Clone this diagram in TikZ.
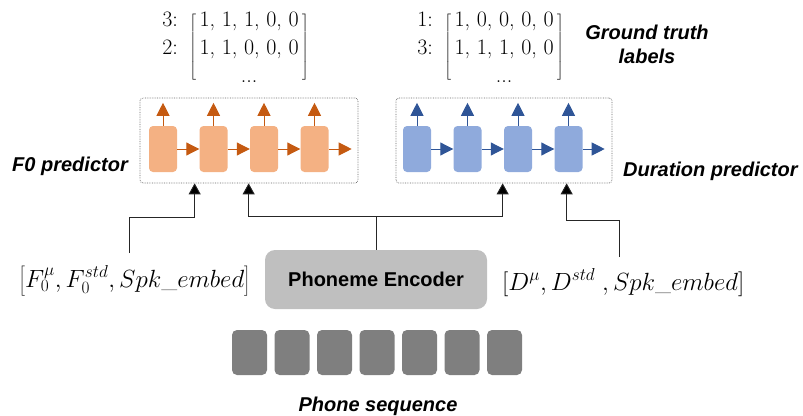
\documentclass[tikz,border=0pt]{standalone}
\usepackage{fontspec}
\usetikzlibrary{arrows.meta,calc}
\newfontfamily\lsans{Liberation Sans}
\definecolor{orfill}{HTML}{F4B183}
\definecolor{orline}{HTML}{C55A11}
\definecolor{blfill}{HTML}{8FAADC}
\definecolor{blline}{HTML}{2F5597}
\definecolor{encfill}{HTML}{BFBFBF}
\definecolor{phfill}{HTML}{7F7F7F}
\newcommand\mycol[1]{\vcenter{\baselineskip=28pt\lineskiplimit=-20pt\halign{\hfil##\hfil\cr#1\cr}}}
\newcommand\mylab[1]{\vcenter{\baselineskip=28pt\lineskiplimit=-20pt\halign{\hfil##\cr#1\cr}}}
\begin{document}
\begin{tikzpicture}[x=1pt,y=-1pt,
  lbl/.style={font=\lsans\bfseries\itshape\fontsize{20}{24}\selectfont, inner sep=0},
  mrow/.style={font=\fontsize{22}{26}\selectfont, inner sep=0},
  mlab/.style={font=\fontsize{23}{27}\selectfont, inner sep=0},
  predbox/.style={draw=black!60, densely dotted, rounded corners=3pt, line width=0.7pt, minimum width=218pt, minimum height=85pt, inner sep=0},
  ocell/.style={fill=orfill, rounded corners=4pt, minimum width=28pt, minimum height=46pt, inner sep=0},
  bcell/.style={fill=blfill, rounded corners=4pt, minimum width=28pt, minimum height=46pt, inner sep=0},
  oarr/.style={draw=orline, line width=1pt, -{Triangle[width=13pt,length=13pt,fill=orline]}},
  barr/.style={draw=blline, line width=1pt, -{Triangle[width=13pt,length=13pt,fill=blline]}},
  blk/.style={draw=black!85, line width=0.9pt, -{Triangle[width=12pt,length=11pt,fill=black]}},
  conn/.style={draw=black!85, line width=0.9pt},
  encbox/.style={fill=encfill, rounded corners=10pt, minimum width=222pt, minimum height=59pt, inner sep=0, font=\lsans\bfseries\fontsize{20}{24}\selectfont},
  pblock/.style={fill=phfill, rounded corners=5pt, minimum width=35pt, minimum height=45pt, inner sep=0}
]
\useasboundingbox (0,0) rectangle (803,415);

% ground truth matrices
\node[mrow, anchor=east] (f0mat) at (309,47)
  {$\mylab{3:\cr 2:\cr }\mskip7mu\left[\mskip3mu\mycol{1, 1, 1, 0, 0\cr 1, 1, 0, 0, 0\cr ...}\mskip3mu\right]$};
\node[mrow, anchor=east] (dmat) at (564,47)
  {$\mylab{1:\cr 3:\cr }\mskip7mu\left[\mskip3mu\mycol{1, 0, 0, 0, 0\cr 1, 1, 1, 0, 0\cr ...}\mskip3mu\right]$};

\node[lbl, align=center, anchor=north] (gt) at (647,24.5) {Ground truth\\labels};

% predictor boxes
\node[predbox] (f0box) at (249,140.5) {};
\node[predbox, minimum width=216pt] (dbox) at (504,140.5) {};

\foreach \i in {1,...,4} {
  \node[ocell] (o\i) at ({163+50.5*(\i-1)},149) {};
  \draw[oarr] (o\i.north) -- ++(0,-23);
  \node[bcell] (b\i) at ({417+50.5*(\i-1)},149) {};
  \draw[barr] (b\i.north) -- ++(0,-23);
}
\foreach \i/\j in {1/2,2/3,3/4} {
  \draw[oarr] (o\i.east) -- (o\j.west);
  \draw[barr] (b\i.east) -- (b\j.west);
}
\draw[oarr] (o4.east) -- ++(23,0);
\draw[barr] (b4.east) -- ++(22,0);

\node[lbl, anchor=base east] (f0name) at (128,171) {F0 predictor};
\node[lbl, anchor=base west] (dname) at (623,176) {Duration predictor};

% encoder and inputs
\node[encbox] (enc) at (376,279.5) {Phoneme Encoder};
\node[mlab, anchor=base west] (f0lab) at (19,287) {$\left[F_0^{\mu},F_0^{std},Spk\_embed\right]$};
\node[mlab, anchor=base west] (dlab) at (502,290) {$[D^{\mu},D^{std}\ ,Spk\_embed]$};

\coordinate (t1) at ($(f0box.south west)+(55,0)$);
\coordinate (t2) at ($(f0box.south west)+(109,0)$);
\coordinate (t3) at ($(dbox.south west)+(107,0)$);
\coordinate (t4) at ($(dbox.south west)+(171,0)$);
\coordinate (f0in) at (129,253);
\coordinate (din) at (619,257);

\draw[blk] (f0in) -- ++(0,-36) -| (t1);
\draw[conn] (enc.north) -- ++(0,-33) coordinate (junc);
\draw[blk] (junc) -| (t2);
\draw[blk] (junc) -| (t3);
\draw[blk] (din) -- ++(0,-37) -| (t4);

% phone sequence
\foreach \i in {0,...,6} {
  \node[pblock] (p\i) at ({249.5+42.5*\i},352.5) {};
}
\node[lbl, anchor=base] (pseq) at (378,411.5) {Phone sequence};
\end{tikzpicture}
\end{document}
